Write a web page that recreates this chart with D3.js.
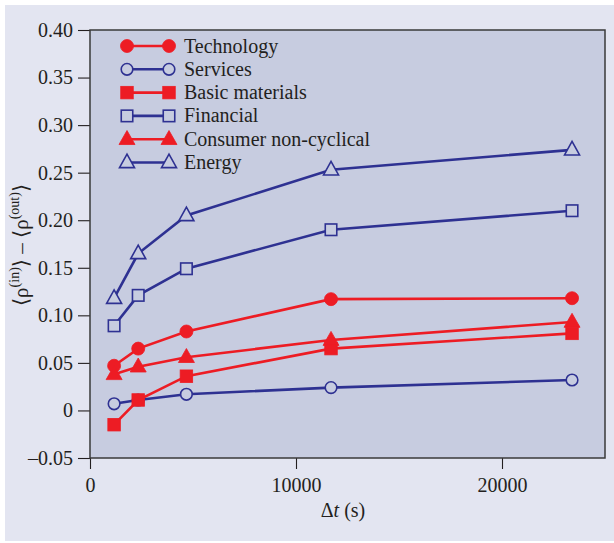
<!DOCTYPE html>
<html>
<head>
<meta charset="utf-8">
<script src="https://cdn.jsdelivr.net/npm/d3@7"></script>
<style>
  html, body { margin: 0; padding: 0; background: #ffffff; }
  svg { display: block; }
  text { font-family: "Liberation Serif", "DejaVu Serif", serif; fill: #231f20; }
</style>
</head>
<body>
<svg id="chart" width="614" height="543"></svg>
<script>
// Sampling intervals (seconds)
const intervals = [1170, 2340, 4680, 11700, 23400];

// Mean in-sector minus out-of-sector correlation per sector
const technology = [0.047, 0.065, 0.083, 0.117, 0.118];
const services   = [0.007, 0.011, 0.017, 0.024, 0.032];
const basicMaterials = [-0.015, 0.011, 0.036, 0.065, 0.081];
const financial  = [0.089, 0.121, 0.149, 0.190, 0.210];
const consumerNonCyclical = [0.038, 0.046, 0.056, 0.074, 0.093];
const energy     = [0.118, 0.165, 0.205, 0.253, 0.274];

const seriesNames = ["Technology", "Services", "Basic materials", "Financial", "Consumer non-cyclical", "Energy"];
const seriesValues = [technology, services, basicMaterials, financial, consumerNonCyclical, energy];
const seriesColors = ["#ed1c24", "#2e3192", "#ed1c24", "#2e3192", "#ed1c24", "#2e3192"];
const seriesShapes = ["circle", "circle", "square", "square", "triangle", "triangle"];
const seriesFilled = [true, false, true, false, true, false];

const xTicks = [0, 10000, 20000];
const yTicks = [-0.05, 0, 0.05, 0.10, 0.15, 0.20, 0.25, 0.30, 0.35, 0.40];

const panelFill = "#c7cce0";
const svg = d3.select("#chart");

// outer panel
svg.append("rect").attr("x", 5).attr("y", 5).attr("width", 609).attr("height", 536).attr("fill", "#e3e5f1");

const plotL = 90, plotR = 605, plotT = 30, plotB = 458;

const x = d3.scaleLinear().domain([0, 25000]).range([plotL, plotR]);
const y = d3.scaleLinear().domain([-0.05, 0.40]).range([plotB, plotT]);

svg.append("rect")
  .attr("x", plotL).attr("y", plotT)
  .attr("width", plotR - plotL).attr("height", plotB - plotT)
  .attr("fill", panelFill);

// axes
const xAxis = svg.append("g")
  .attr("transform", `translate(0,${plotB})`)
  .call(d3.axisBottom(x).tickValues(xTicks).tickFormat(d => d === 0 ? "0" : String(d)).tickSize(11).tickPadding(9));
const yAxis = svg.append("g")
  .attr("transform", `translate(${plotL},0)`)
  .call(d3.axisLeft(y).tickValues(yTicks)
    .tickFormat(d => d === 0 ? "0" : (d < 0 ? "\u2013" + d3.format(".2f")(-d) : d3.format(".2f")(d)))
    .tickSize(12).tickPadding(5));

[xAxis, yAxis].forEach(g => {
  g.select(".domain").remove();
  g.selectAll(".tick line").attr("stroke", "#231f20").attr("stroke-width", 1.1);
  g.selectAll(".tick text").attr("font-size", 20).attr("fill", "#231f20")
    .style("font-family", "'Liberation Serif', serif");
});

// frame
svg.append("rect")
  .attr("x", plotL).attr("y", plotT)
  .attr("width", plotR - plotL).attr("height", plotB - plotT)
  .attr("fill", "none").attr("stroke", "#3a3a3a").attr("stroke-width", 1.5);

function drawMarker(g, shape, cx, cy, color, filled) {
  let m;
  if (shape === "circle") {
    m = g.append("circle").attr("cx", cx).attr("cy", cy).attr("r", filled ? 6.5 : 5.8);
  } else if (shape === "square") {
    const s = filled ? 12.5 : 11.5;
    m = g.append("rect").attr("x", cx - s / 2).attr("y", cy - s / 2).attr("width", s).attr("height", s);
  } else {
    const w = filled ? 16 : 15, h = filled ? 14 : 13.5;
    m = g.append("path").attr("d", `M${cx},${cy - h * 0.62}L${cx + w / 2},${cy + h * 0.38}L${cx - w / 2},${cy + h * 0.38}Z`);
  }
  if (filled) m.attr("fill", color).attr("stroke", color).attr("stroke-width", 0.8);
  else m.attr("fill", panelFill).attr("stroke", color).attr("stroke-width", 1.6);
}

const line = d3.line().x((d, i) => x(intervals[i])).y(d => y(d));

const plot = svg.append("g");
seriesValues.forEach((vals, k) => {
  const g = plot.append("g");
  g.append("path").datum(vals).attr("d", line)
    .attr("fill", "none").attr("stroke", seriesColors[k]).attr("stroke-width", 2.6);
  vals.forEach((v, i) => drawMarker(g, seriesShapes[k], x(intervals[i]), y(v), seriesColors[k], seriesFilled[k]));
});

// legend
const legend = svg.append("g");
seriesNames.forEach((name, k) => {
  const ly = 46 + k * 23.3;
  const g = legend.append("g");
  g.append("line").attr("x1", 127).attr("x2", 169).attr("y1", ly).attr("y2", ly)
    .attr("stroke", seriesColors[k]).attr("stroke-width", 2.6);
  drawMarker(g, seriesShapes[k], 127, ly, seriesColors[k], seriesFilled[k]);
  drawMarker(g, seriesShapes[k], 169, ly, seriesColors[k], seriesFilled[k]);
  g.append("text").attr("x", 184).attr("y", ly + 6.5).attr("font-size", 20).text(name);
});

// axis titles
const xt = svg.append("text").attr("x", 343).attr("y", 517).attr("text-anchor", "middle").attr("font-size", 20);
xt.append("tspan").text("\u0394");
xt.append("tspan").attr("font-style", "italic").text("t");
xt.append("tspan").text(" (s)");

const yt = svg.append("text")
  .attr("transform", "translate(28,245) rotate(-90)")
  .attr("text-anchor", "middle").attr("font-size", 21);
yt.append("tspan").text("\u27E8\u03C1");
yt.append("tspan").attr("font-size", 14).attr("dy", -9).text("(in)");
yt.append("tspan").attr("dy", 9).text("\u27E9 \u2013 \u27E8\u03C1");
yt.append("tspan").attr("font-size", 14).attr("dy", -9).text("(out)");
yt.append("tspan").attr("dy", 9).text("\u27E9");
</script>
</body>
</html>
